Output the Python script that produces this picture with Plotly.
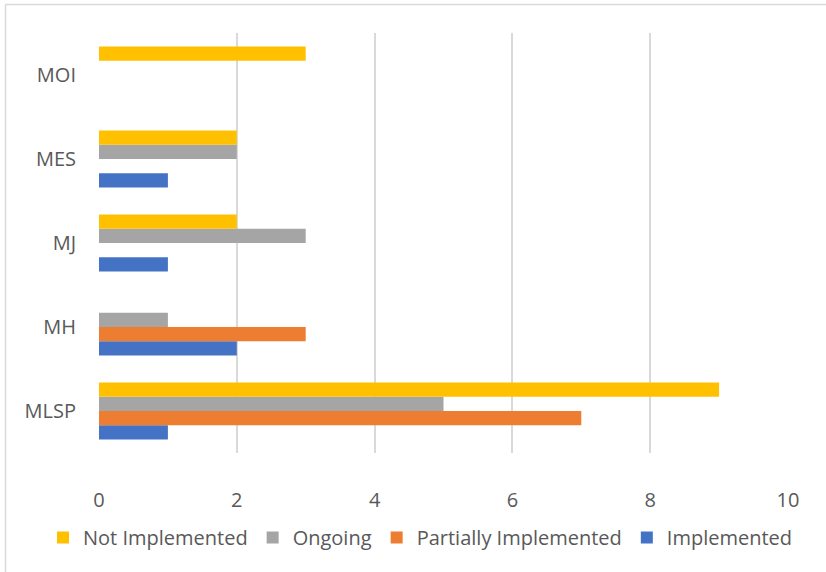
import plotly.graph_objects as go

categories = ["MLSP", "MH", "MJ", "MES", "MOI"]
implemented = [1, 2, 1, 1, 0]
partially_implemented = [7, 3, 0, 0, 0]
ongoing = [5, 1, 3, 2, 0]
not_implemented = [9, 0, 2, 2, 3]
x_ticks = [0, 2, 4, 6, 8, 10]

series = [
    ("Implemented", implemented, "#4472C4"),
    ("Partially Implemented", partially_implemented, "#ED7D31"),
    ("Ongoing", ongoing, "#A5A5A5"),
    ("Not Implemented", not_implemented, "#FFC000"),
]

fig = go.Figure()
for name, vals, color in series:
    fig.add_trace(go.Bar(
        y=categories, x=vals, name=name, orientation="h",
        marker=dict(color=color, line=dict(width=0)),
    ))

W, H = 826, 572
L, R, T, B = 99, 38, 33, 119
pw, ph = W - L - R, H - T - B

font_family = "Open Sans, Noto Sans, sans-serif"
fig.update_layout(
    width=W, height=H,
    margin=dict(l=L, r=R, t=T, b=B, autoexpand=False),
    barmode="group", bargap=0.32, bargroupgap=0,
    plot_bgcolor="white", paper_bgcolor="white",
    font=dict(family=font_family, size=20, color="#595959"),
    showlegend=True,
    legend=dict(
        orientation="h", traceorder="reversed",
        x=(43 - L) / pw, xanchor="left", xref="paper",
        y=-(537.5 - (H - B)) / ph, yanchor="middle", yref="paper",
        font=dict(size=20, color="#595959"),
        itemwidth=30, tracegroupgap=0,
    ),
    xaxis=dict(
        range=[0, 10], tickvals=x_ticks, showgrid=True,
        gridcolor="#D9D9D9", gridwidth=1.5, zeroline=False,
        showline=False, ticks="", ticklabelstandoff=33, automargin=False,
    ),
    yaxis=dict(
        categoryorder="array", categoryarray=categories,
        showgrid=False, zeroline=False, showline=False, ticks="",
        ticklabelstandoff=22, automargin=False,
    ),
    shapes=[
        dict(type="line", xref="paper", yref="paper",
             x0=(5.5 - L) / pw, x1=(W - L) / pw,
             y0=(H - B - 4.5) / ph, y1=(H - B - 4.5) / ph,
             line=dict(color="#D9D9D9", width=1.5), layer="below"),
        dict(type="line", xref="paper", yref="paper",
             x0=(5.5 - L) / pw, x1=(5.5 - L) / pw,
             y0=-B / ph, y1=(H - B - 4.5) / ph,
             line=dict(color="#D9D9D9", width=1.5), layer="below"),
    ],
)

fig.write_html("out.html")
